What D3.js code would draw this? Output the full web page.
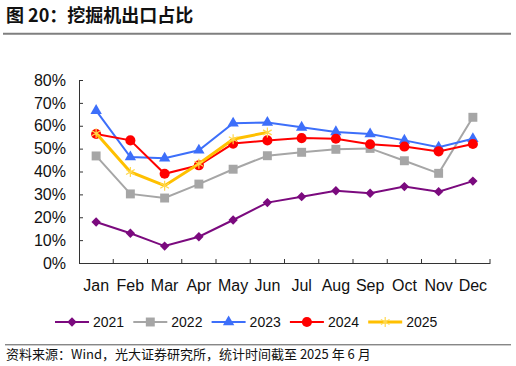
<!DOCTYPE html>
<html>
<head>
<meta charset="utf-8">
<script src="https://cdn.jsdelivr.net/npm/d3@7"></script>
<style>
  body { margin: 0; background: #fff; }
  svg { display: block; }
</style>
</head>
<body>
<svg id="chart"></svg>
<script>
// Months on the x axis
var months = ["Jan", "Feb", "Mar", "Apr", "May", "Jun", "Jul", "Aug", "Sep", "Oct", "Nov", "Dec"];

// Export share by year, in percent (2025 only up to June)
var y2021 = [17.9, 13.0, 7.4, 11.5, 18.8, 26.4, 29.0, 31.6, 30.5, 33.4, 31.2, 35.8];
var y2022 = [46.8, 30.2, 28.4, 34.5, 41.0, 46.9, 48.4, 49.7, 50.1, 44.7, 39.2, 63.7];
var y2023 = [66.6, 46.3, 45.8, 49.3, 61.1, 61.4, 59.3, 57.3, 56.4, 53.6, 50.6, 54.3];
var y2024 = [56.4, 53.6, 39.0, 42.7, 52.2, 53.6, 54.6, 54.3, 51.9, 50.9, 48.8, 52.0];
var y2025 = [56.7, 39.8, 33.8, 43.4, 54.1, 57.1];

// Y axis tick values
var yTicks = [0, 10, 20, 30, 40, 50, 60, 70, 80];

var series = [
  { name: "2021", values: y2021, color: "#7B0A7E", width: 2, symbol: "diamond" },
  { name: "2022", values: y2022, color: "#A6A6A6", width: 2, symbol: "square" },
  { name: "2023", values: y2023, color: "#3D6FFA", width: 2, symbol: "triangle" },
  { name: "2024", values: y2024, color: "#FF0000", width: 2, symbol: "circle" },
  { name: "2025", values: y2025, color: "#FFC000", width: 3, symbol: "asterisk" }
];

var width = 516, height = 366;
var latin = "'Liberation Sans', Arial, sans-serif";
var cjk = "'Noto Sans CJK SC', 'Noto Sans', sans-serif";

var svg = d3.select("#chart")
  .attr("width", width)
  .attr("height", height);

// Title and rules
svg.append("text")
  .attr("x", 6)
  .attr("y", 22)
  .style("font-family", cjk)
  .style("font-size", "18px")
  .style("font-weight", "700")
  .attr("fill", "#111")
  .text("图 20：挖掘机出口占比");

svg.append("line")
  .attr("x1", 3).attr("x2", 511)
  .attr("y1", 33.7).attr("y2", 33.7)
  .attr("stroke", "#7f7f7f")
  .attr("stroke-width", 2);

svg.append("line")
  .attr("x1", 5).attr("x2", 511)
  .attr("y1", 344.8).attr("y2", 344.8)
  .attr("stroke", "#555")
  .attr("stroke-width", 1);

svg.append("text")
  .attr("x", 6)
  .attr("y", 359)
  .style("font-family", cjk)
  .style("font-size", "13px")
  .attr("fill", "#111")
  .text("资料来源：Wind，光大证券研究所，统计时间截至 2025 年 6 月");

// Scales
var x = d3.scaleBand()
  .domain(months)
  .range([79, 490])
  .paddingInner(0);

var y = d3.scaleLinear()
  .domain([0, 80])
  .range([263, 80]);

function cx(i) { return x(months[i]) + x.bandwidth() / 2; }

// Y axis
var yAxis = svg.append("g")
  .attr("transform", "translate(79,0)")
  .call(d3.axisLeft(y)
    .tickValues(yTicks)
    .tickSizeInner(-4)
    .tickSizeOuter(0)
    .tickPadding(13)
    .tickFormat(function (d) { return d + "%"; }));

// X axis: labels centred on bands, ticks on band edges
var xAxis = svg.append("g")
  .attr("transform", "translate(0,263)")
  .call(d3.axisBottom(x)
    .tickSize(0)
    .tickPadding(17));

xAxis.selectAll(".edge")
  .data(months.slice(1).concat(["end"]))
  .enter().append("line")
  .attr("class", "edge")
  .attr("x1", function (d) { return d === "end" ? x.range()[1] : x(d); })
  .attr("x2", function (d) { return d === "end" ? x.range()[1] : x(d); })
  .attr("y1", 0)
  .attr("y2", -4)
  .attr("stroke", "#333");

[yAxis, xAxis].forEach(function (ax) {
  ax.select(".domain").attr("stroke", "#333");
  ax.selectAll(".tick line").attr("stroke", "#333");
  ax.selectAll("text")
    .style("font-family", latin)
    .style("font-size", "16px")
    .attr("fill", "#111");
});

// Marker shapes
var symbols = {
  diamond: d3.symbol().type(d3.symbolSquare).size(44),
  square: d3.symbol().type(d3.symbolSquare).size(80),
  triangle: d3.symbol().type(d3.symbolTriangle).size(56),
  circle: d3.symbol().type(d3.symbolCircle).size(80),
  asterisk: d3.symbol().type(d3.symbolAsterisk).size(70)
};

function drawMarker(g, s, px, py) {
  var p = g.append("path")
    .attr("d", symbols[s.symbol]());
  if (s.symbol === "asterisk") {
    p.attr("fill", "none")
      .attr("stroke", "#FFD84D")
      .attr("stroke-width", 1.2)
      .attr("transform", "translate(" + px + "," + py + ")");
  } else {
    p.attr("fill", s.color)
      .attr("transform", "translate(" + px + "," + py + ")" + (s.symbol === "diamond" ? " rotate(45)" : ""));
  }
}

var line = d3.line()
  .x(function (d, i) { return cx(i); })
  .y(function (d) { return y(d); });

// Series
series.forEach(function (s) {
  var g = svg.append("g").attr("class", "series");
  g.append("path")
    .datum(s.values)
    .attr("d", line)
    .attr("fill", "none")
    .attr("stroke", s.color)
    .attr("stroke-width", s.width);
  s.values.forEach(function (v, i) {
    drawMarker(g, s, cx(i), y(v));
  });
});

// Legend
var legend = svg.append("g")
  .attr("transform", "translate(55,322)");

series.forEach(function (s, i) {
  var lg = legend.append("g")
    .attr("transform", "translate(" + (i * 78.3) + ",0)");
  lg.append("line")
    .attr("x1", 0).attr("x2", 34)
    .attr("stroke", s.color)
    .attr("stroke-width", s.width);
  drawMarker(lg, s, 17, 0);
  lg.append("text")
    .attr("x", 38)
    .attr("dy", "0.36em")
    .style("font-family", latin)
    .style("font-size", "14px")
    .attr("fill", "#111")
    .text(s.name);
});
</script>
</body>
</html>
